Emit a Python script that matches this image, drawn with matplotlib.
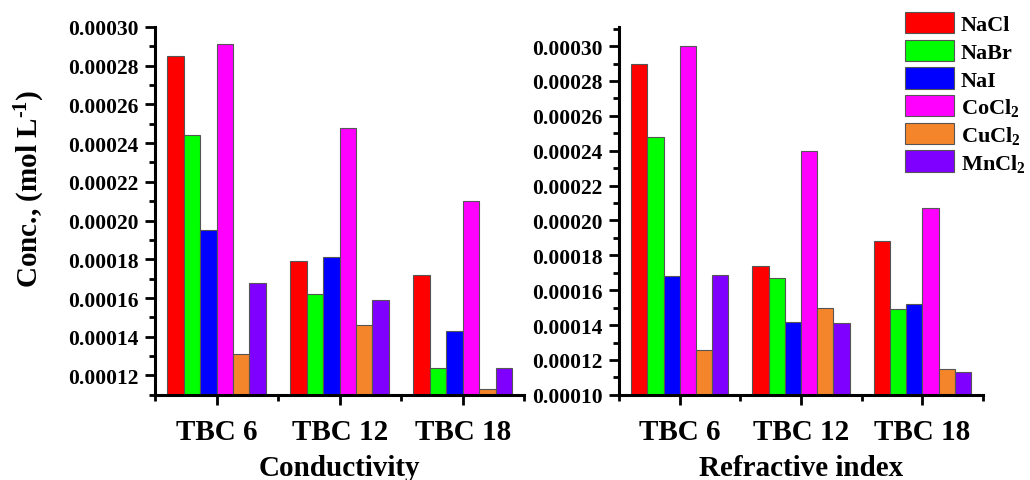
import matplotlib as mpl
mpl.use('Agg')
import matplotlib.pyplot as plt
import numpy as np
from matplotlib.ticker import MultipleLocator, FormatStrFormatter, FixedLocator

plt.rcParams['font.family'] = ['Liberation Serif', 'DejaVu Serif']
plt.rcParams['font.weight'] = 'bold'
plt.rcParams['mathtext.fontset'] = 'custom'
plt.rcParams['mathtext.rm'] = 'Liberation Serif:bold'
plt.rcParams['mathtext.bf'] = 'Liberation Serif:bold'
plt.rcParams['mathtext.default'] = 'rm'

groups = ['TBC 6', 'TBC 12', 'TBC 18']
salts = ['NaCl', 'NaBr', 'NaI', r'CoCl$_2$', r'CuCl$_2$', r'MnCl$_2$']
colors = ['#ff0000', '#00ff00', '#0000ff', '#ff00ff', '#f5852a', '#8000ff']

# concentration (mol/L) per salt, one value per TBC group
cond_NaCl = [0.000285, 0.000179, 0.000172]
cond_NaBr = [0.000244, 0.000162, 0.000124]
cond_NaI = [0.000195, 0.000181, 0.000143]
cond_CoCl2 = [0.000291, 0.000248, 0.000210]
cond_CuCl2 = [0.000131, 0.000146, 0.000113]
cond_MnCl2 = [0.000168, 0.000159, 0.000124]

ri_NaCl = [0.000290, 0.000174, 0.000188]
ri_NaBr = [0.000248, 0.000167, 0.000149]
ri_NaI = [0.000168, 0.000142, 0.000152]
ri_CoCl2 = [0.000300, 0.000240, 0.000207]
ri_CuCl2 = [0.000126, 0.000150, 0.000115]
ri_MnCl2 = [0.000169, 0.000141, 0.000113]

cond = [cond_NaCl, cond_NaBr, cond_NaI, cond_CoCl2, cond_CuCl2, cond_MnCl2]
ri = [ri_NaCl, ri_NaBr, ri_NaI, ri_CoCl2, ri_CuCl2, ri_MnCl2]

fig = plt.figure(figsize=(10.3, 4.81), dpi=100)
ax1 = fig.add_axes([0.1505, 0.177, 0.3585, 0.765])
ax2 = fig.add_axes([0.601, 0.177, 0.3534, 0.765])

x = np.arange(1, 4)
w = 0.8 / 6


def draw(ax, data, ymin, ymax, xlabel):
    for i, vals in enumerate(data):
        ax.bar(x + (i - 2.5) * w, np.array(vals) - ymin, w, bottom=ymin,
               color=colors[i], edgecolor='#555555', linewidth=0.8,
               label=salts[i])
    ax.set_xlim(0.5, 3.5)
    ax.set_ylim(ymin, ymax)
    for s in ['top', 'right']:
        ax.spines[s].set_visible(False)
    for s in ['left', 'bottom']:
        ax.spines[s].set_linewidth(2.2)
    ax.set_xticks(x)
    ax.set_xticklabels(groups, fontsize=21, fontweight='bold')
    ax.xaxis.set_minor_locator(FixedLocator([0.5, 1.5, 2.5, 3.5]))
    ax.yaxis.set_major_locator(MultipleLocator(0.00002))
    ax.yaxis.set_minor_locator(MultipleLocator(0.00001))
    ax.yaxis.set_major_formatter(FormatStrFormatter('%.5f'))
    ax.tick_params(which='major', direction='out', length=7, width=2, labelsize=15.5)
    ax.tick_params(which='minor', direction='out', length=4, width=2)
    ax.tick_params(axis='x', labelsize=21, pad=10)
    ax.tick_params(axis='y', pad=5)
    for t in ax.get_yticklabels():
        t.set_fontweight('bold')
    ax.set_xlabel(xlabel, fontsize=21, fontweight='bold', labelpad=6)


draw(ax1, cond, 0.00011, 0.00030, 'Conductivity')
draw(ax2, ri, 0.00010, 0.000311, 'Refractive index')

fig.text(0.029, 0.607, r'Conc., (mol L$^{\text{-1}}$)', rotation=90, ha='center',
         va='center', fontsize=21, fontweight='bold')

h, l = ax2.get_legend_handles_labels()
fig.legend(h, l, loc='upper left', bbox_to_anchor=(905 / 1030, 1 - 13 / 481),
           frameon=False, borderpad=0, borderaxespad=0, handlelength=2.2,
           handleheight=1.1, handletextpad=0.3, labelspacing=0.2,
           prop={'size': 16, 'weight': 'bold'})

plt.savefig('out.png', dpi=100)
